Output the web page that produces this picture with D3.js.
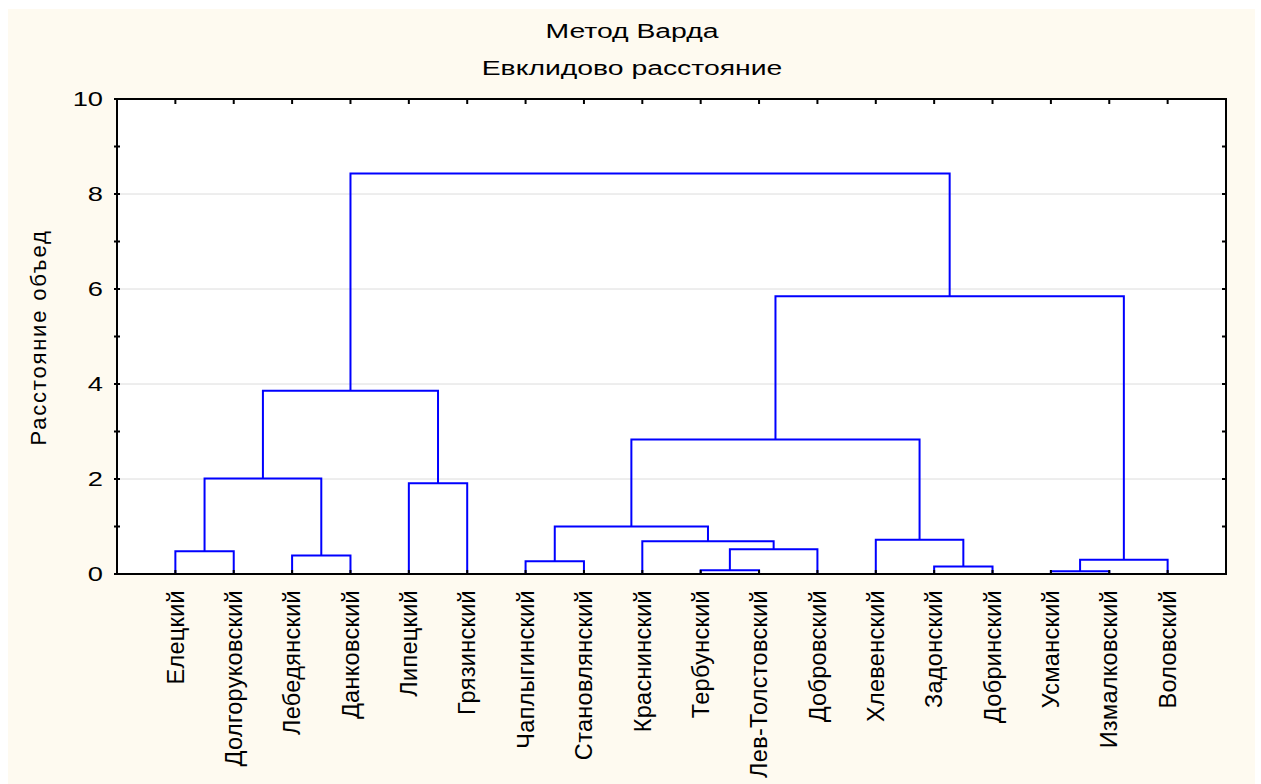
<!DOCTYPE html>
<html>
<head>
<meta charset="utf-8">
<script src="https://cdn.jsdelivr.net/npm/d3@7"></script>
<style>
  body { margin: 0; background: #fff; }
  text { font-family: "Liberation Sans", Arial, sans-serif; fill: #000; }
</style>
</head>
<body>
<svg></svg>
<script>
let width = 1261;
let height = 784;

// leaf order along the x axis
let leaves = ['Елецкий', 'Долгоруковский', 'Лебедянский', 'Данковский', 'Липецкий',
  'Грязинский', 'Чаплыгинский', 'Становлянский', 'Краснинский', 'Тербунский',
  'Лев-Толстовский', 'Добровский', 'Хлевенский', 'Задонский', 'Добринский',
  'Усманский', 'Измалковский', 'Воловский'];

// merges: [left, right, height]; a number refers to an earlier merge
let merges = [
  ['Елецкий', 'Долгоруковский', 0.48],      // 0
  ['Лебедянский', 'Данковский', 0.39],      // 1
  [0, 1, 2.01],                             // 2
  ['Липецкий', 'Грязинский', 1.91],         // 3
  [2, 3, 3.86],                             // 4
  ['Чаплыгинский', 'Становлянский', 0.27],  // 5
  ['Тербунский', 'Лев-Толстовский', 0.08],  // 6
  [6, 'Добровский', 0.52],                  // 7
  ['Краснинский', 7, 0.69],                 // 8
  [5, 8, 1.0],                              // 9
  ['Задонский', 'Добринский', 0.16],        // 10
  ['Хлевенский', 10, 0.72],                 // 11
  [9, 11, 2.83],                            // 12
  ['Усманский', 'Измалковский', 0.06],      // 13
  [13, 'Воловский', 0.30],                  // 14
  [12, 14, 5.85],                           // 15
  [4, 15, 8.43]                             // 16
];

let yTicks = [0, 2, 4, 6, 8, 10];
let yMinor = [1, 3, 5, 7, 9];

let margin = { left: 117, top: 99, right: 1226, bottom: 574 };

let svg = d3.select('svg')
            .attr('width', width)
            .attr('height', height);

// cream background
svg.append('rect')
   .attr('x', 8).attr('y', 9)
   .attr('width', 1247).attr('height', 775)
   .attr('fill', '#fefaf0');

svg.append('rect')
   .attr('x', margin.left).attr('y', margin.top)
   .attr('width', margin.right - margin.left)
   .attr('height', margin.bottom - margin.top)
   .attr('fill', '#fff');

let x = d3.scalePoint()
          .domain(leaves)
          .range([margin.left, margin.right])
          .padding(1);

let y = d3.scaleLinear()
          .domain([0, 10])
          .range([margin.bottom, margin.top]);

// gridlines
svg.append('g')
   .selectAll('line')
   .data(yTicks.filter(d => d > 0 && d < 10))
   .enter()
   .append('line')
   .attr('x1', margin.left).attr('x2', margin.right)
   .attr('y1', d => y(d)).attr('y2', d => y(d))
   .attr('stroke', '#dcdcdc')
   .attr('stroke-width', 1);

// node positions
let pos = merges.map(() => null);
function nodeX(n) { return typeof n === 'number' ? pos[n].x : x(n); }
function nodeY(n) { return typeof n === 'number' ? pos[n].h : 0; }

let links = [];
merges.forEach((m, i) => {
  let x1 = nodeX(m[0]), x2 = nodeX(m[1]);
  pos[i] = { x: (x1 + x2) / 2, h: m[2] };
  links.push({ x1: x1, x2: x2, h1: nodeY(m[0]), h2: nodeY(m[1]), h: m[2] });
});

svg.append('g')
   .selectAll('path')
   .data(links)
   .enter()
   .append('path')
   .attr('d', d => 'M' + d.x1 + ',' + y(d.h1) + 'V' + y(d.h) + 'H' + d.x2 + 'V' + y(d.h2))
   .attr('fill', 'none')
   .attr('stroke', '#0000ff')
   .attr('stroke-width', 2);

// frame
svg.append('rect')
   .attr('x', margin.left).attr('y', margin.top)
   .attr('width', margin.right - margin.left)
   .attr('height', margin.bottom - margin.top)
   .attr('fill', 'none')
   .attr('stroke', '#000')
   .attr('stroke-width', 2);

// leaf ticks top and bottom, value ticks left and right
let tk = svg.append('g').attr('stroke', '#000').attr('stroke-width', 2);
leaves.forEach(l => {
  tk.append('line').attr('x1', x(l)).attr('x2', x(l))
    .attr('y1', margin.top).attr('y2', margin.top + 5);
  tk.append('line').attr('x1', x(l)).attr('x2', x(l))
    .attr('y1', margin.bottom).attr('y2', margin.bottom - 4);
});
yTicks.concat(yMinor).forEach(v => {
  tk.append('line').attr('x1', margin.left - 3).attr('x2', margin.left + 3)
    .attr('y1', y(v)).attr('y2', y(v));
  tk.append('line').attr('x1', margin.right).attr('x2', margin.right - 4)
    .attr('y1', y(v)).attr('y2', y(v));
});

// y tick labels (horizontal text is drawn a bit wide, as in the original)
svg.append('g')
   .selectAll('text')
   .data(yTicks)
   .enter()
   .append('text')
   .attr('transform', d => 'translate(103,' + y(d) + ') scale(1.4,1)')
   .attr('dy', '0.35em')
   .attr('text-anchor', 'end')
   .style('font-size', '19.5px')
   .text(d => d);

// leaf labels
svg.append('g')
   .selectAll('text')
   .data(leaves)
   .enter()
   .append('text')
   .attr('transform', d => 'translate(' + x(d) + ',' + (margin.bottom + 16) + ') rotate(-90)')
   .attr('dy', '0.35em')
   .attr('text-anchor', 'end')
   .style('font-size', '23.5px')
   .style('letter-spacing', '0.3px')
   .text(d => d);

// titles
svg.append('text')
   .attr('transform', 'translate(632,38) scale(1.35,1)')
   .attr('text-anchor', 'middle')
   .style('font-size', '21px')
   .text('Метод Варда');
svg.append('text')
   .attr('transform', 'translate(632,74.5) scale(1.35,1)')
   .attr('text-anchor', 'middle')
   .style('font-size', '21px')
   .text('Евклидово расстояние');

svg.append('text')
   .attr('transform', 'translate(46,337.5) rotate(-90)')
   .attr('text-anchor', 'middle')
   .style('font-size', '22px')
   .style('letter-spacing', '1.8px')
   .text('Расстояние объед');
</script>
</body>
</html>
